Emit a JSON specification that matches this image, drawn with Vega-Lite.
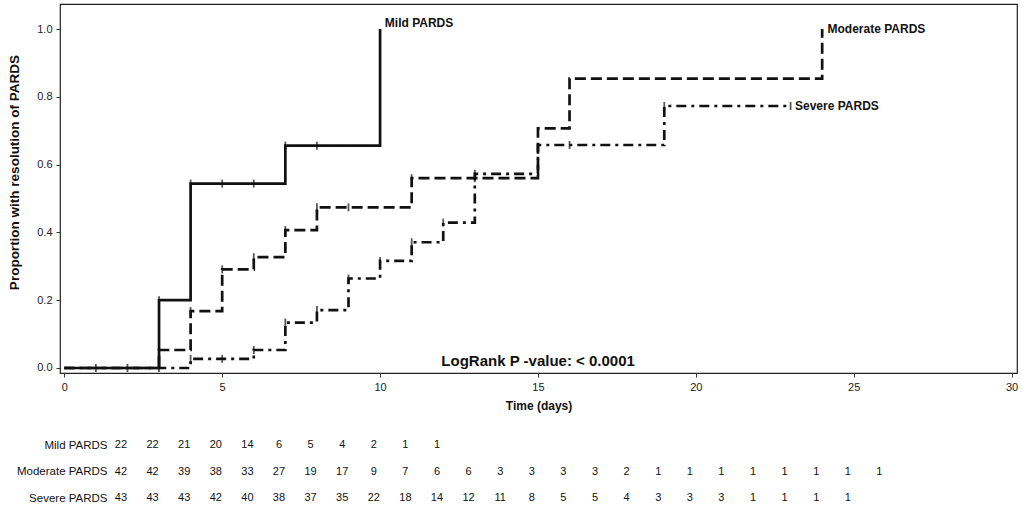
{
  "$schema": "https://vega.github.io/schema/vega-lite/v6.json",
  "width": 957,
  "height": 369,
  "autosize": {"type": "none"},
  "padding": {"left": 60, "top": 4, "right": 5, "bottom": 137},
  "background": "white",
  "config": {
    "font": "Liberation Sans",
    "view": {"stroke": "#222", "strokeWidth": 1.2},
    "axis": {
      "labelFont": "Liberation Sans",
      "labelFontSize": 11,
      "labelColor": "#222",
      "titleFont": "Liberation Sans",
      "titleFontSize": 12,
      "titleFontWeight": "bold",
      "titleColor": "#111",
      "tickColor": "#333",
      "grid": false,
      "domain": false
    }
  },
  "datasets": {
    "curves": [
      {"group": "Mild PARDS", "day": 0, "p": 0},
      {"group": "Mild PARDS", "day": 3, "p": 0.2},
      {"group": "Mild PARDS", "day": 4, "p": 0.544},
      {"group": "Mild PARDS", "day": 7, "p": 0.656},
      {"group": "Mild PARDS", "day": 10, "p": 1.0},
      {"group": "Moderate PARDS", "day": 0, "p": 0},
      {"group": "Moderate PARDS", "day": 3, "p": 0.053},
      {"group": "Moderate PARDS", "day": 4, "p": 0.168},
      {"group": "Moderate PARDS", "day": 5, "p": 0.291},
      {"group": "Moderate PARDS", "day": 6, "p": 0.327},
      {"group": "Moderate PARDS", "day": 7, "p": 0.407},
      {"group": "Moderate PARDS", "day": 8, "p": 0.474},
      {"group": "Moderate PARDS", "day": 11, "p": 0.56},
      {"group": "Moderate PARDS", "day": 15, "p": 0.707},
      {"group": "Moderate PARDS", "day": 16, "p": 0.854},
      {"group": "Moderate PARDS", "day": 24, "p": 1.0},
      {"group": "Severe PARDS", "day": 0, "p": 0},
      {"group": "Severe PARDS", "day": 4, "p": 0.027},
      {"group": "Severe PARDS", "day": 6, "p": 0.053},
      {"group": "Severe PARDS", "day": 7, "p": 0.134},
      {"group": "Severe PARDS", "day": 8, "p": 0.171},
      {"group": "Severe PARDS", "day": 9, "p": 0.264},
      {"group": "Severe PARDS", "day": 10, "p": 0.316},
      {"group": "Severe PARDS", "day": 11, "p": 0.371},
      {"group": "Severe PARDS", "day": 12, "p": 0.429},
      {"group": "Severe PARDS", "day": 13, "p": 0.573},
      {"group": "Severe PARDS", "day": 15, "p": 0.658},
      {"group": "Severe PARDS", "day": 19, "p": 0.773},
      {"group": "Severe PARDS", "day": 23, "p": 0.773}
    ],
    "censored": [
      {"group": "Mild PARDS", "day": 1, "p": 0},
      {"group": "Mild PARDS", "day": 2, "p": 0},
      {"group": "Mild PARDS", "day": 3, "p": 0},
      {"group": "Mild PARDS", "day": 3, "p": 0.2},
      {"group": "Mild PARDS", "day": 4, "p": 0.544},
      {"group": "Mild PARDS", "day": 5, "p": 0.544},
      {"group": "Mild PARDS", "day": 6, "p": 0.544},
      {"group": "Mild PARDS", "day": 7, "p": 0.656},
      {"group": "Mild PARDS", "day": 8, "p": 0.656},
      {"group": "Moderate PARDS", "day": 3, "p": 0.053},
      {"group": "Moderate PARDS", "day": 4, "p": 0.168},
      {"group": "Moderate PARDS", "day": 5, "p": 0.291},
      {"group": "Moderate PARDS", "day": 6, "p": 0.327},
      {"group": "Moderate PARDS", "day": 7, "p": 0.407},
      {"group": "Moderate PARDS", "day": 8, "p": 0.474},
      {"group": "Moderate PARDS", "day": 9, "p": 0.474},
      {"group": "Moderate PARDS", "day": 11, "p": 0.56},
      {"group": "Moderate PARDS", "day": 13, "p": 0.56},
      {"group": "Severe PARDS", "day": 4, "p": 0.027},
      {"group": "Severe PARDS", "day": 5, "p": 0.027},
      {"group": "Severe PARDS", "day": 6, "p": 0.053},
      {"group": "Severe PARDS", "day": 7, "p": 0.134},
      {"group": "Severe PARDS", "day": 8, "p": 0.171},
      {"group": "Severe PARDS", "day": 9, "p": 0.264},
      {"group": "Severe PARDS", "day": 10, "p": 0.316},
      {"group": "Severe PARDS", "day": 11, "p": 0.371},
      {"group": "Severe PARDS", "day": 12, "p": 0.429},
      {"group": "Severe PARDS", "day": 13, "p": 0.573},
      {"group": "Severe PARDS", "day": 16, "p": 0.658},
      {"group": "Severe PARDS", "day": 19, "p": 0.773},
      {"group": "Severe PARDS", "day": 23, "p": 0.773}
    ],
    "curveLabels": [
      {"group": "Mild PARDS", "day": 10.15, "p": 1.017},
      {"group": "Moderate PARDS", "day": 24.17, "p": 1.0},
      {"group": "Severe PARDS", "day": 23.14, "p": 0.773}
    ],
    "notes": [
      {"note": "LogRank P -value: < 0.0001", "day": 11.94, "p": 0.0215}
    ],
    "atRisk": [
      {"group": "Mild PARDS", "col": 0, "n": 22},
      {"group": "Mild PARDS", "col": 1, "n": 22},
      {"group": "Mild PARDS", "col": 2, "n": 21},
      {"group": "Mild PARDS", "col": 3, "n": 20},
      {"group": "Mild PARDS", "col": 4, "n": 14},
      {"group": "Mild PARDS", "col": 5, "n": 6},
      {"group": "Mild PARDS", "col": 6, "n": 5},
      {"group": "Mild PARDS", "col": 7, "n": 4},
      {"group": "Mild PARDS", "col": 8, "n": 2},
      {"group": "Mild PARDS", "col": 9, "n": 1},
      {"group": "Mild PARDS", "col": 10, "n": 1},
      {"group": "Moderate PARDS", "col": 0, "n": 42},
      {"group": "Moderate PARDS", "col": 1, "n": 42},
      {"group": "Moderate PARDS", "col": 2, "n": 39},
      {"group": "Moderate PARDS", "col": 3, "n": 38},
      {"group": "Moderate PARDS", "col": 4, "n": 33},
      {"group": "Moderate PARDS", "col": 5, "n": 27},
      {"group": "Moderate PARDS", "col": 6, "n": 19},
      {"group": "Moderate PARDS", "col": 7, "n": 17},
      {"group": "Moderate PARDS", "col": 8, "n": 9},
      {"group": "Moderate PARDS", "col": 9, "n": 7},
      {"group": "Moderate PARDS", "col": 10, "n": 6},
      {"group": "Moderate PARDS", "col": 11, "n": 6},
      {"group": "Moderate PARDS", "col": 12, "n": 3},
      {"group": "Moderate PARDS", "col": 13, "n": 3},
      {"group": "Moderate PARDS", "col": 14, "n": 3},
      {"group": "Moderate PARDS", "col": 15, "n": 3},
      {"group": "Moderate PARDS", "col": 16, "n": 2},
      {"group": "Moderate PARDS", "col": 17, "n": 1},
      {"group": "Moderate PARDS", "col": 18, "n": 1},
      {"group": "Moderate PARDS", "col": 19, "n": 1},
      {"group": "Moderate PARDS", "col": 20, "n": 1},
      {"group": "Moderate PARDS", "col": 21, "n": 1},
      {"group": "Moderate PARDS", "col": 22, "n": 1},
      {"group": "Moderate PARDS", "col": 23, "n": 1},
      {"group": "Moderate PARDS", "col": 24, "n": 1},
      {"group": "Severe PARDS", "col": 0, "n": 43},
      {"group": "Severe PARDS", "col": 1, "n": 43},
      {"group": "Severe PARDS", "col": 2, "n": 43},
      {"group": "Severe PARDS", "col": 3, "n": 42},
      {"group": "Severe PARDS", "col": 4, "n": 40},
      {"group": "Severe PARDS", "col": 5, "n": 38},
      {"group": "Severe PARDS", "col": 6, "n": 37},
      {"group": "Severe PARDS", "col": 7, "n": 35},
      {"group": "Severe PARDS", "col": 8, "n": 22},
      {"group": "Severe PARDS", "col": 9, "n": 18},
      {"group": "Severe PARDS", "col": 10, "n": 14},
      {"group": "Severe PARDS", "col": 11, "n": 12},
      {"group": "Severe PARDS", "col": 12, "n": 11},
      {"group": "Severe PARDS", "col": 13, "n": 8},
      {"group": "Severe PARDS", "col": 14, "n": 5},
      {"group": "Severe PARDS", "col": 15, "n": 5},
      {"group": "Severe PARDS", "col": 16, "n": 4},
      {"group": "Severe PARDS", "col": 17, "n": 3},
      {"group": "Severe PARDS", "col": 18, "n": 3},
      {"group": "Severe PARDS", "col": 19, "n": 3},
      {"group": "Severe PARDS", "col": 20, "n": 1},
      {"group": "Severe PARDS", "col": 21, "n": 1},
      {"group": "Severe PARDS", "col": 22, "n": 1},
      {"group": "Severe PARDS", "col": 23, "n": 1}
    ]
  },
  "layer": [
    {
      "layer": [
        {
          "data": {"name": "curves"},
          "mark": {"type": "line", "interpolate": "step-after", "color": "#111", "strokeWidth": 2.7},
          "encoding": {
            "x": {
              "field": "day",
              "type": "quantitative",
              "scale": {"domain": [-0.136, 30.17], "nice": false, "zero": false},
              "axis": {
                "values": [0, 5, 10, 15, 20, 25, 30],
                "format": "d",
                "title": "Time (days)",
                "tickSize": 4,
                "labelPadding": 4,
                "titlePadding": 8
              }
            },
            "y": {
              "field": "p",
              "type": "quantitative",
              "scale": {"domain": [-0.0148, 1.074], "nice": false, "zero": false},
              "axis": {
                "values": [0, 0.2, 0.4, 0.6, 0.8, 1.0],
                "format": ".1f",
                "title": "Proportion with resolution of PARDS",
                "titleFontSize": 13.5,
                "tickSize": 4,
                "labelPadding": 4,
                "titlePadding": 15,
                "titleY": 168
              }
            },
            "detail": {"field": "group"},
            "strokeDash": {
              "field": "group",
              "type": "nominal",
              "scale": {
                "domain": ["Mild PARDS", "Moderate PARDS", "Severe PARDS"],
                "range": [[1, 0], [11, 5], [10, 5, 3, 5]]
              },
              "legend": null
            }
          }
        },
        {
          "data": {"name": "censored"},
          "mark": {"type": "tick", "orient": "vertical", "color": "#111", "size": 8, "thickness": 1.8},
          "encoding": {
            "x": {"field": "day", "type": "quantitative"},
            "y": {"field": "p", "type": "quantitative"}
          }
        },
        {
          "data": {"name": "curveLabels"},
          "mark": {"type": "text", "align": "left", "baseline": "middle", "fontSize": 12, "fontWeight": "bold", "color": "#111"},
          "encoding": {
            "x": {"field": "day", "type": "quantitative"},
            "y": {"field": "p", "type": "quantitative"},
            "text": {"field": "group"}
          }
        },
        {
          "data": {"name": "notes"},
          "mark": {"type": "text", "align": "left", "baseline": "middle", "fontSize": 15, "fontWeight": "bold", "color": "#111"},
          "encoding": {
            "x": {"field": "day", "type": "quantitative"},
            "y": {"field": "p", "type": "quantitative"},
            "text": {"field": "note"}
          }
        }
      ]
    },
    {
      "data": {"name": "atRisk"},
      "mark": {"type": "text", "align": "center", "baseline": "middle", "font": "Liberation Sans", "fontSize": 11, "color": "#111"},
      "encoding": {
        "x": {
          "field": "col",
          "type": "quantitative",
          "scale": {"domain": [-1.93, 28.354], "nice": false, "zero": false},
          "axis": null
        },
        "y": {
          "field": "group",
          "type": "nominal",
          "scale": {
            "type": "point",
            "domain": ["Mild PARDS", "Moderate PARDS", "Severe PARDS"],
            "range": [441, 494.3],
            "padding": 0
          },
          "axis": {
            "orient": "left",
            "offset": -47,
            "ticks": false,
            "tickSize": 0,
            "labelPadding": 0,
            "labelFont": "Liberation Sans",
            "labelFontSize": 11.5,
            "labelColor": "#111",
            "title": null
          }
        },
        "text": {"field": "n", "type": "quantitative"}
      }
    }
  ],
  "resolve": {"scale": {"x": "independent", "y": "independent"}}
}
